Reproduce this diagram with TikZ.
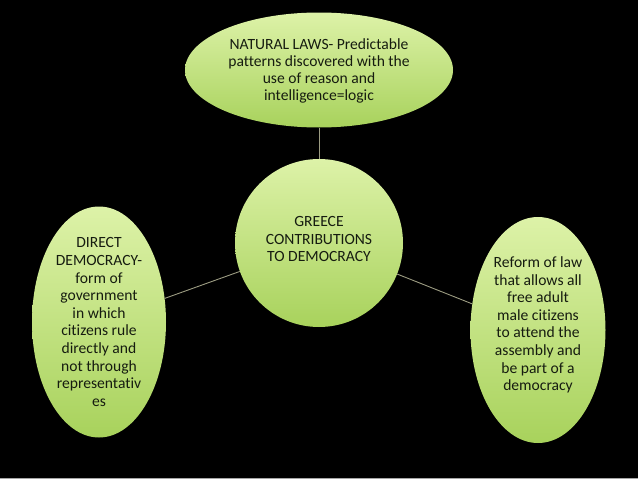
\documentclass[tikz,border=0pt]{standalone}
\usepackage{fontspec}
\setmainfont{Carlito}[Ligatures={NoCommon}]
\usetikzlibrary{shapes.geometric}
\definecolor{bgtop}{HTML}{DDF2A8}
\definecolor{bgmid}{HTML}{C8E58A}
\definecolor{bgbot}{HTML}{A8D25C}
\definecolor{linkc}{HTML}{9C9C82}
\definecolor{txtc}{HTML}{161C10}
\tikzset{
  bubble/.style={shape=ellipse, inner sep=0pt, top color=bgtop, middle color=bgmid, bottom color=bgbot, draw=none},
  ball/.style={shape=circle, inner sep=0pt, top color=bgtop, middle color=bgmid, bottom color=bgbot, draw=none},
  txt/.style={align=center, text=txtc, inner sep=0pt, font=\fontsize{15.6pt}{17.6pt}\selectfont},
  link/.style={draw=linkc, line width=0.9pt}
}
\begin{document}
\begin{tikzpicture}[x=1pt, y=-1pt]
\fill[black] (0,0) rectangle (638,479);
\useasboundingbox (0,0) rectangle (638,479);
\fill[gray!70] (0,477.6) rectangle (638,479);

\node[ball, minimum size=168pt] (hub) at (319,243) {};
\node[bubble, minimum width=268pt, minimum height=115pt] (top) at (319,70) {};
\node[bubble, minimum width=134pt, minimum height=231pt] (left) at (99,322) {};
\node[bubble, minimum width=135pt, minimum height=226pt] (right) at (538,330) {};

\draw[link] (hub) -- (top);
\draw[link] (hub) -- (left);
\draw[link] (hub) -- (right);

\node[txt] (hubtext) at (319,239) {GREECE\\CONTRIBUTIONS\\TO DEMOCRACY};
\node[txt, font=\fontsize{15.6pt}{16.8pt}\selectfont] (toptext) at (319,71) {NATURAL LAWS- Predictable\\patterns discovered with the\\use of reason and\\intelligence=logic};
\node[txt] (lefttext) at (99,322) {DIRECT\\DEMOCRACY-\\form of\\government\\in which\\citizens rule\\directly and\\not through\\representativ\\es};
\node[txt] (righttext) at (538,325) {Reform of law\\that allows all\\free adult\\male citizens\\to attend the\\assembly and\\be part of a\\democracy};
\end{tikzpicture}
\end{document}
